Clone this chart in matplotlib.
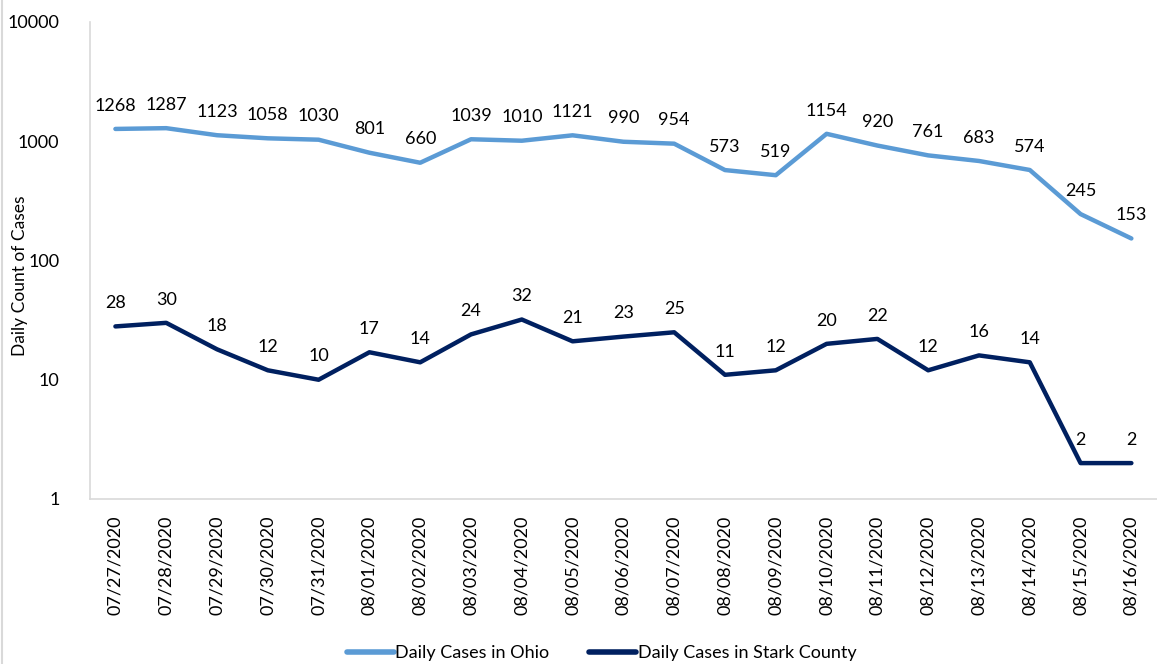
import matplotlib
matplotlib.use("Agg")
from matplotlib import pyplot as plt
from matplotlib.lines import Line2D

dates = ["07/27/2020", "07/28/2020", "07/29/2020", "07/30/2020", "07/31/2020",
         "08/01/2020", "08/02/2020", "08/03/2020", "08/04/2020", "08/05/2020",
         "08/06/2020", "08/07/2020", "08/08/2020", "08/09/2020", "08/10/2020",
         "08/11/2020", "08/12/2020", "08/13/2020", "08/14/2020", "08/15/2020",
         "08/16/2020"]
ohio = [1268, 1287, 1123, 1058, 1030, 801, 660, 1039, 1010, 1121, 990, 954,
        573, 519, 1154, 920, 761, 683, 574, 245, 153]
stark = [28, 30, 18, 12, 10, 17, 14, 24, 32, 21, 23, 25, 11, 12, 20, 22, 12,
         16, 14, 2, 2]

plt.rcParams['font.family'] = ['Lato', 'DejaVu Sans']

fig = plt.figure(figsize=(11.57, 6.64), dpi=100)
ax = fig.add_axes([0.0778, 0.2485, 0.922, 0.7184])

x = list(range(len(dates)))
ohio_color = '#5B9BD5'
stark_color = '#002060'

ax.plot(x, ohio, color=ohio_color, lw=3.2, solid_joinstyle='round',
        solid_capstyle='round', label='Daily Cases in Ohio')
ax.plot(x, stark, color=stark_color, lw=3.2, solid_joinstyle='round',
        solid_capstyle='round', label='Daily Cases in Stark County')

# data labels above each point
for xi, v in zip(x, ohio):
    ax.annotate(str(v), (xi, v), textcoords="offset points", xytext=(0, 11),
                ha='center', va='bottom', fontsize=13)
for xi, v in zip(x, stark):
    ax.annotate(str(v), (xi, v), textcoords="offset points", xytext=(0, 11),
                ha='center', va='bottom', fontsize=13)

ax.set_yscale('log')
ax.set_ylim(1, 10000)
ax.set_xlim(-0.5, len(dates) - 0.5)
ax.set_yticks([1, 10, 100, 1000, 10000])
ax.set_yticklabels(['1', '10', '100', '1000', '10000'], fontsize=13)
ax.minorticks_off()
ax.set_xticks(x)
ax.set_xticklabels(dates, rotation=90, fontsize=13)
ax.tick_params(axis='both', length=0)
ax.tick_params(axis='y', pad=22)
ax.tick_params(axis='x', pad=12)

fig.text(0.017, 0.584, 'Daily Count of Cases', rotation=90, fontsize=12.5,
         ha='center', va='center')

for side in ['top', 'right']:
    ax.spines[side].set_visible(False)
for side in ['left', 'bottom']:
    ax.spines[side].set_color('#D9D9D9')
    ax.spines[side].set_linewidth(1.2)

handles = [Line2D([0], [0], color=ohio_color, lw=4, solid_capstyle='round'),
           Line2D([0], [0], color=stark_color, lw=4, solid_capstyle='round')]
fig.legend(handles, ['Daily Cases in Ohio', 'Daily Cases in Stark County'],
           loc='center', bbox_to_anchor=(0.52, 0.016), ncol=2, frameon=False,
           fontsize=13, handlelength=2.6, handletextpad=0.1, columnspacing=2.2)

fig.add_artist(Line2D([0.002, 0.002], [0, 1], color='#D9D9D9', lw=1.5,
                      transform=fig.transFigure))

fig.savefig('out.png', dpi=100)
